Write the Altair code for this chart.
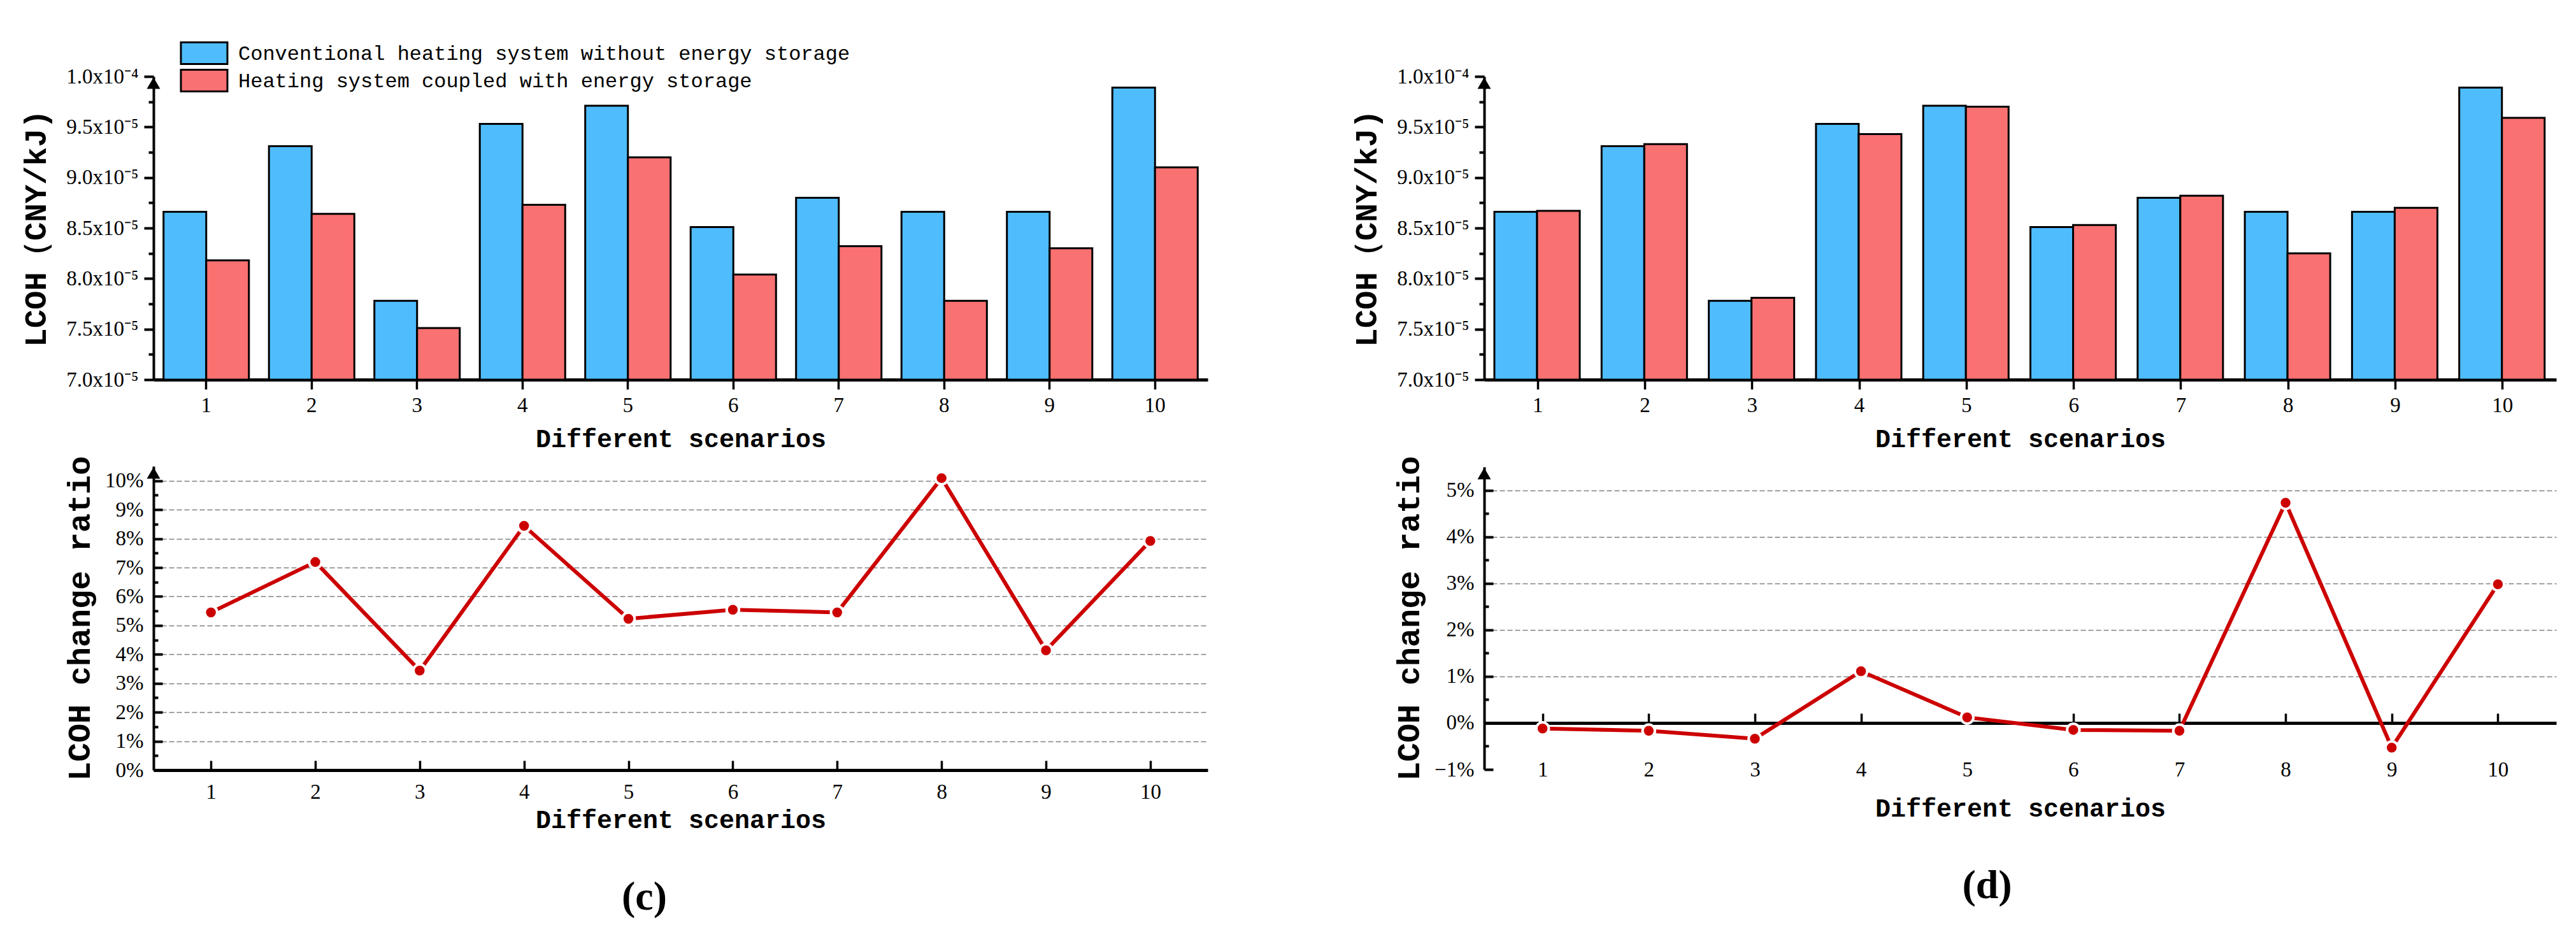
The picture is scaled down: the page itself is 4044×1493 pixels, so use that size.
import altair as alt
import pandas as pd

# ---------------- data ----------------
scenarios = ["1", "2", "3", "4", "5", "6", "7", "8", "9", "10"]
series_names = ["Conventional heating system without energy storage",
                "Heating system coupled with energy storage"]

# LCOH (CNY/kJ)
lcoh_conventional = [8.66e-5, 9.31e-5, 7.78e-5, 9.53e-5, 9.71e-5, 8.51e-5, 8.80e-5, 8.66e-5, 8.66e-5, 9.89e-5]
lcoh_storage_c = [8.18e-5, 8.64e-5, 7.51e-5, 8.73e-5, 9.20e-5, 8.04e-5, 8.32e-5, 7.78e-5, 8.30e-5, 9.10e-5]
lcoh_storage_d = [8.67e-5, 9.33e-5, 7.81e-5, 9.43e-5, 9.70e-5, 8.53e-5, 8.82e-5, 8.25e-5, 8.70e-5, 9.59e-5]

# LCOH change ratio
ratio_c = [0.0545, 0.0719, 0.0344, 0.0844, 0.0523, 0.0554, 0.0545, 0.1009, 0.0414, 0.0792]
ratio_d = [-0.0012, -0.0017, -0.0034, 0.0111, 0.0012, -0.0015, -0.0017, 0.0473, -0.0053, 0.0298]

# axis tick values
lcoh_ticks = [7.0e-5, 7.5e-5, 8.0e-5, 8.5e-5, 9.0e-5, 9.5e-5, 1.0e-4]
lcoh_minor = [7.25e-5, 7.75e-5, 8.25e-5, 8.75e-5, 9.25e-5, 9.75e-5]
ratio_ticks_c = [0.0, 0.01, 0.02, 0.03, 0.04, 0.05, 0.06, 0.07, 0.08, 0.09, 0.10]
ratio_grid_c = [0.01, 0.02, 0.03, 0.04, 0.05, 0.06, 0.07, 0.08, 0.09, 0.10]
ratio_minor_c = [0.005, 0.015, 0.025, 0.035, 0.045, 0.055, 0.065, 0.075, 0.085, 0.095]
ratio_domain_c = [0.0, 0.105]
ratio_ticks_d = [-0.01, 0.0, 0.01, 0.02, 0.03, 0.04, 0.05]
ratio_grid_d = [0.01, 0.02, 0.03, 0.04, 0.05]
ratio_minor_d = [-0.005, 0.005, 0.015, 0.025, 0.035, 0.045]
ratio_domain_d = [-0.01, 0.055]

# ---------------- style ----------------
BLUE = "#4FBCFE"
RED = "#FA7171"
LINE = "#CC0000"
SERIF = "Liberation Serif"
MONO = "Liberation Mono"
RECT_PATH = "M-2.147,-1L2.147,-1L2.147,1L-2.147,1Z"

TOP_H = 476
TICK_FS = 33


def lcoh_chart(storage, width, legend_x):
    df = pd.DataFrame({
        "scenario": scenarios + scenarios,
        "series": [series_names[0]] * len(scenarios) + [series_names[1]] * len(scenarios),
        "lcoh": lcoh_conventional + storage,
    })
    top_df = pd.DataFrame({"top": [lcoh_ticks[-1]]})
    yscale = alt.Scale(domain=[lcoh_ticks[0], lcoh_ticks[-1]], zero=False, nice=False)
    x = alt.X("scenario:N", sort=scenarios, title="Different scenarios",
              scale=alt.Scale(paddingInner=0.19, paddingOuter=0.095),
              axis=alt.Axis(orient="bottom", labelAngle=0, labelFont=SERIF, labelFontSize=TICK_FS,
                            labelColor="black", labelPadding=9, domainColor="black", domainWidth=5,
                            tickColor="black", tickWidth=3.5, tickSize=15, grid=False,
                            titleFont=MONO, titleFontSize=40, titleFontWeight="bold",
                            titleColor="black", titlePadding=16))
    y = alt.Y("lcoh:Q", scale=yscale, title="LCOH（CNY/kJ)",
              axis=alt.Axis(orient="left", values=lcoh_ticks,
                            labelExpr="datum.value > 9.9e-5 ? '1.0x10⁻⁴' : format(datum.value * 100000, '.1f') + 'x10⁻⁵'",
                            labelFont=SERIF, labelFontSize=TICK_FS, labelColor="black", labelPadding=9,
                            tickSize=15, tickWidth=4, tickColor="black", domainColor="black",
                            domainWidth=4, grid=False, titleFont=MONO, titleFontSize=49,
                            titleFontWeight="bold", titleColor="black", titlePadding=22))
    bars = alt.Chart(df).mark_bar(stroke="black", strokeWidth=3).encode(
        x=x,
        xOffset=alt.XOffset("series:N", sort=series_names),
        y=y,
        y2=alt.datum(lcoh_ticks[0]),
        color=alt.Color("series:N", sort=series_names,
                        scale=alt.Scale(domain=series_names, range=[BLUE, RED]),
                        legend=alt.Legend(orient="none", legendX=legend_x, legendY=-55,
                                          direction="vertical", title=None,
                                          symbolType=RECT_PATH, symbolSize=1156,
                                          symbolStrokeColor="black", symbolStrokeWidth=3,
                                          symbolOpacity=1,
                                          labelFont=MONO, labelFontSize=32, labelColor="black",
                                          labelOffset=35, rowPadding=-4, labelLimit=3000,
                                          padding=0)),
    )
    minor = alt.Chart(df).mark_point(opacity=0).encode(
        x=alt.X("scenario:N", sort=scenarios, axis=None),
        y=alt.Y("lcoh:Q", scale=yscale,
                axis=alt.Axis(orient="left", values=lcoh_minor, labels=False, domain=False,
                              ticks=True, tickSize=8, tickWidth=4, tickColor="black",
                              grid=False, title=None, maxExtent=0)),
    )
    arrow = alt.Chart(top_df).mark_point(shape="triangle-up", filled=True, color="black",
                                         opacity=1, size=441, yOffset=10.5).encode(
        x=alt.value(0),
        y=alt.Y("top:Q", scale=yscale, axis=None),
    )
    return alt.layer(bars, minor, arrow).resolve_axis(x="independent", y="independent").properties(
        width=width, height=TOP_H)


def ratio_chart(ratios, width, height, domain, ticks, grid, minor, label_mid, label_pad,
                title_pad, tag, tag_dx):
    df = pd.DataFrame({"scenario": scenarios, "ratio": ratios})
    top_df = pd.DataFrame({"top": [domain[1]]})
    xscale = alt.Scale(type="point", padding=0.55)
    yscale = alt.Scale(domain=domain, zero=False, nice=False)
    zero_offset = -height * domain[1] / (domain[1] - domain[0])

    grid_l = alt.Chart(df).mark_line(strokeOpacity=0).encode(
        x=alt.X("scenario:N", sort=scenarios, scale=xscale, axis=None),
        y=alt.Y("ratio:Q", scale=yscale,
                axis=alt.Axis(orient="left", values=grid, labels=False, domain=False, ticks=False,
                              grid=True, gridColor="#808080", gridDash=[8, 4], gridWidth=1.5,
                              title=None, maxExtent=0)),
    )
    minor_l = alt.Chart(df).mark_line(strokeOpacity=0).encode(
        x=alt.X("scenario:N", sort=scenarios, scale=xscale, axis=None),
        y=alt.Y("ratio:Q", scale=yscale,
                axis=alt.Axis(orient="right", offset=-width, values=minor, labels=False,
                              domain=False, ticks=True, tickSize=7, tickWidth=4,
                              tickColor="black", grid=False, title=None, maxExtent=0)),
    )
    line = alt.Chart(df).mark_line(color=LINE, strokeWidth=6).encode(
        x=alt.X("scenario:N", sort=scenarios, scale=xscale, title="Different scenarios",
                axis=alt.Axis(orient="bottom", domain=False, ticks=False, labelAngle=0,
                              labelFont=SERIF, labelFontSize=TICK_FS, labelColor="black",
                              labelPadding=label_pad,
                              labelBaseline="middle" if label_mid else "top",
                              grid=False, titleFont=MONO, titleFontSize=40,
                              titleFontWeight="bold", titleColor="black",
                              titlePadding=title_pad)),
        y=alt.Y("ratio:Q", scale=yscale, title="LCOH change ratio",
                axis=alt.Axis(orient="left", values=ticks, format=".0%", ticks=False,
                              domain=True, domainColor="black", domainWidth=4,
                              labelFont=SERIF, labelFontSize=TICK_FS, labelColor="black",
                              labelPadding=16, grid=False, titleFont=MONO, titleFontSize=50,
                              titleFontWeight="bold", titleColor="black", titlePadding=14)),
    )
    pts = alt.Chart(df).mark_circle(size=380, color=LINE, opacity=1, stroke="white",
                                    strokeWidth=4).encode(
        x=alt.X("scenario:N", sort=scenarios, scale=xscale,
                axis=alt.Axis(orient="top", offset=zero_offset, labels=False, domain=True,
                              domainColor="black", domainWidth=5, ticks=True, tickSize=15,
                              tickWidth=3.5, tickColor="black", grid=False, title=None,
                              maxExtent=0)),
        y=alt.Y("ratio:Q", scale=yscale,
                axis=alt.Axis(orient="right", offset=-width, values=ticks, labels=False,
                              domain=False, ticks=True, tickSize=14, tickWidth=4,
                              tickColor="black", grid=False, title=None, maxExtent=0)),
    )
    arrow = alt.Chart(top_df).mark_point(shape="triangle-up", filled=True, color="black",
                                         opacity=1, size=441, yOffset=10.5).encode(
        x=alt.value(0),
        y=alt.Y("top:Q", scale=yscale, axis=None),
    )
    return alt.layer(grid_l, minor_l, line, pts, arrow).resolve_axis(
        x="independent", y="independent").properties(
        width=width, height=height,
        title=alt.TitleParams(tag, orient="bottom", font=SERIF, fontSize=64, fontWeight="bold",
                              color="black", offset=70, dx=tag_dx))


top_c = lcoh_chart(lcoh_storage_c, 1655, 61)
top_d = lcoh_chart(lcoh_storage_d, 1683, 64)
bot_c = ratio_chart(ratio_c, 1655, 477, ratio_domain_c, ratio_ticks_c, ratio_grid_c,
                    ratio_minor_c, False, 18, 7, "(c)", -57)
bot_d = ratio_chart(ratio_d, 1683, 475, ratio_domain_d, ratio_ticks_d, ratio_grid_d,
                    ratio_minor_d, True, 0, 24, "(d)", -52)

left = alt.vconcat(top_c, bot_c, spacing=6)
right = alt.vconcat(top_d, bot_d, spacing=6)

chart = alt.hconcat(left, right, spacing=225).properties(
    padding={"left": 24, "top": 57, "right": 5, "bottom": 5},
    background="white",
).configure_view(stroke=None)

chart.save("out.html", embed_options={"renderer": "svg", "actions": False})
